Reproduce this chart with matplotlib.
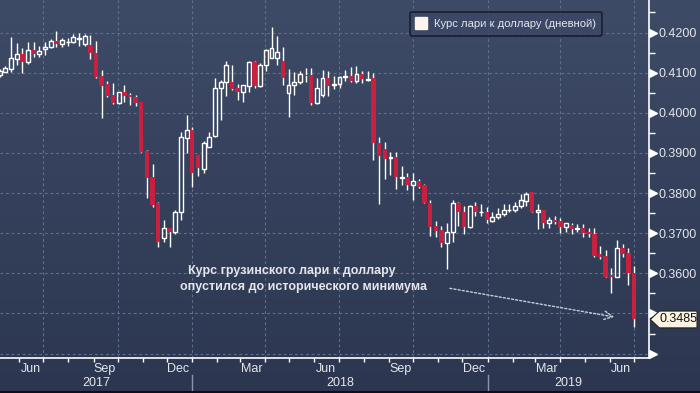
import datetime as dt

import matplotlib
matplotlib.use("Agg")
import matplotlib.pyplot as plt
import matplotlib.dates as mdates
import numpy as np
from matplotlib.colors import LinearSegmentedColormap
from matplotlib.lines import Line2D
from matplotlib.patches import Polygon, Rectangle
from matplotlib.transforms import blended_transform_factory

# weekly GEL/USD candles, first week starts 2017-05-08
first_week = dt.date(2017, 5, 8)
opens = [0.4093, 0.4101, 0.4108, 0.4133, 0.4146, 0.4126, 0.4156, 0.4146, 0.4158, 0.4163,
         0.4178, 0.4171, 0.4176, 0.4176, 0.4185, 0.4171, 0.4168, 0.4148, 0.4091, 0.4071,
         0.4044, 0.4024, 0.4051, 0.4044, 0.4039, 0.4026, 0.3904, 0.3839, 0.3774, 0.3687,
         0.3712, 0.3702, 0.3754, 0.3936, 0.3956, 0.3894, 0.3859, 0.3914, 0.3941, 0.4061,
         0.4076, 0.4076, 0.4061, 0.4051, 0.4066, 0.4126, 0.4066, 0.4118, 0.4136, 0.4136,
         0.4128, 0.4049, 0.4069, 0.4076, 0.4093, 0.4093, 0.4024, 0.4044, 0.4086, 0.4069,
         0.4071, 0.4089, 0.4091, 0.4079, 0.4096, 0.4081, 0.4086, 0.3924, 0.3909, 0.3887,
         0.3889, 0.3837, 0.3839, 0.3819, 0.3829, 0.3819, 0.3774, 0.3717, 0.3707, 0.3675,
         0.3702, 0.3774, 0.3752, 0.3715, 0.3767, 0.3752, 0.3754, 0.3730, 0.3740, 0.3749,
         0.3757, 0.3759, 0.3767, 0.3779, 0.3802, 0.3752, 0.3757, 0.3725, 0.3732, 0.3730,
         0.3715, 0.3720, 0.3710, 0.3712, 0.3702, 0.3697, 0.3647, 0.3642, 0.3597, 0.3590,
         0.3662, 0.3650, 0.3600]
highs = [0.4108, 0.4116, 0.4188, 0.4173, 0.4161, 0.4176, 0.4176, 0.4166, 0.4176, 0.4183,
         0.4203, 0.4186, 0.4186, 0.4196, 0.4198, 0.4196, 0.4193, 0.4178, 0.4106, 0.4079,
         0.4074, 0.4051, 0.4069, 0.4049, 0.4044, 0.4026, 0.3907, 0.3872, 0.3777, 0.3732,
         0.3712, 0.3757, 0.3951, 0.3994, 0.3964, 0.3894, 0.3929, 0.3951, 0.4086, 0.4081,
         0.4128, 0.4118, 0.4071, 0.4069, 0.4128, 0.4128, 0.4123, 0.4158, 0.4213, 0.4191,
         0.4163, 0.4108, 0.4101, 0.4103, 0.4111, 0.4111, 0.4086, 0.4106, 0.4103, 0.4091,
         0.4091, 0.4106, 0.4113, 0.4116, 0.4103, 0.4103, 0.4098, 0.3939, 0.3927, 0.3902,
         0.3902, 0.3867, 0.3849, 0.3849, 0.3834, 0.3822, 0.3782, 0.3730, 0.3717, 0.3725,
         0.3782, 0.3777, 0.3767, 0.3769, 0.3777, 0.3772, 0.3764, 0.3752, 0.3762, 0.3772,
         0.3772, 0.3777, 0.3797, 0.3802, 0.3802, 0.3772, 0.3759, 0.3740, 0.3742, 0.3737,
         0.3725, 0.3725, 0.3722, 0.3722, 0.3712, 0.3712, 0.3667, 0.3657, 0.3612, 0.3682,
         0.3672, 0.3662, 0.3617]
lows = [0.4089, 0.4101, 0.4101, 0.4118, 0.4098, 0.4121, 0.4138, 0.4138, 0.4143, 0.4161,
        0.4163, 0.4163, 0.4166, 0.4173, 0.4166, 0.4166, 0.4133, 0.4087, 0.3986, 0.4039,
        0.4021, 0.4021, 0.4026, 0.4019, 0.4016, 0.3902, 0.3787, 0.3764, 0.3665, 0.3677,
        0.3665, 0.3697, 0.3732, 0.3899, 0.3814, 0.3842, 0.3849, 0.3914, 0.3939, 0.3981,
        0.4041, 0.4056, 0.4031, 0.4026, 0.4051, 0.4061, 0.4064, 0.4103, 0.4136, 0.4118,
        0.4069, 0.3989, 0.4044, 0.4071, 0.4076, 0.4019, 0.4021, 0.4039, 0.4041, 0.4059,
        0.4061, 0.4079, 0.4076, 0.4074, 0.4074, 0.4079, 0.3882, 0.3772, 0.3834, 0.3844,
        0.3809, 0.3819, 0.3807, 0.3782, 0.3812, 0.3774, 0.3692, 0.3690, 0.3665, 0.3610,
        0.3677, 0.3717, 0.3697, 0.3712, 0.3744, 0.3744, 0.3725, 0.3727, 0.3735, 0.3744,
        0.3752, 0.3752, 0.3762, 0.3767, 0.3752, 0.3710, 0.3712, 0.3712, 0.3722, 0.3700,
        0.3702, 0.3697, 0.3702, 0.3690, 0.3690, 0.3640, 0.3635, 0.3590, 0.3550, 0.3590,
        0.3640, 0.3572, 0.3465]
closes = [0.4103, 0.4111, 0.4136, 0.4146, 0.4126, 0.4156, 0.4146, 0.4153, 0.4163, 0.4178,
          0.4171, 0.4181, 0.4177, 0.4188, 0.4186, 0.4191, 0.4148, 0.4089, 0.4066, 0.4041,
          0.4024, 0.4051, 0.4041, 0.4039, 0.4024, 0.3902, 0.3837, 0.3769, 0.3677, 0.3712,
          0.3702, 0.3754, 0.3939, 0.3956, 0.3849, 0.3862, 0.3924, 0.3939, 0.4061, 0.4076,
          0.4118, 0.4059, 0.4051, 0.4069, 0.4126, 0.4066, 0.4118, 0.4156, 0.4161, 0.4151,
          0.4086, 0.4069, 0.4076, 0.4096, 0.4091, 0.4024, 0.4061, 0.4086, 0.4066, 0.4071,
          0.4089, 0.4091, 0.4079, 0.4096, 0.4084, 0.4084, 0.3924, 0.3892, 0.3884, 0.3889,
          0.3839, 0.3839, 0.3819, 0.3829, 0.3814, 0.3774, 0.3715, 0.3705, 0.3675, 0.3702,
          0.3774, 0.3752, 0.3715, 0.3767, 0.3752, 0.3754, 0.3732, 0.3740, 0.3749, 0.3759,
          0.3759, 0.3767, 0.3782, 0.3797, 0.3752, 0.3757, 0.3725, 0.3732, 0.3727, 0.3715,
          0.3725, 0.3710, 0.3712, 0.3700, 0.3697, 0.3642, 0.3640, 0.3592, 0.3590, 0.3662,
          0.3647, 0.3600, 0.3485]

legend_label = "Курс лари к доллару (дневной)"
note_lines = ["Курс грузинского лари к доллару", "опустился до исторического минимума"]
month_labels = {6: "Jun", 9: "Sep", 12: "Dec", 3: "Mar"}
years = [2017, 2018, 2019]

weeks = [first_week + dt.timedelta(weeks=i) for i in range(len(opens))]
xs = mdates.date2num(weeks)

RED = "#c8203f"
GRID = "#5f6f8e"
TEXT = "#e4e6ea"
plt.rcParams["font.family"] = ["Liberation Sans", "DejaVu Sans"]

fig = plt.figure(figsize=(7.0, 3.93), dpi=100)

# background gradient
bg = fig.add_axes([0, 0, 1, 1], zorder=-10)
grad = np.linspace(0, 1, 256).reshape(-1, 1)
cmap = LinearSegmentedColormap.from_list("bg", ["#3e4b67", "#2c3650"])
bg.imshow(grad, aspect="auto", cmap=cmap, extent=[0, 1, 0, 1])
bg.set_axis_off()
fig.add_artist(Rectangle((0, 0), 1, 2 / 393, transform=fig.transFigure,
                         facecolor="#0c0f16", edgecolor="none"))

ax = fig.add_axes([0, 1 - 358 / 393, 649 / 700, 358 / 393])
ax.set_facecolor("none")

x_left = mdates.date2num(dt.datetime(2017, 5, 8, 8))
x_right = x_left + 649 / 0.809
ax.set_xlim(x_left, x_right)
ax.set_ylim(0.3389, 0.4281)

# candles
body_w = 4.8
for x, o, h, l, c in zip(xs, opens, highs, lows, closes):
    top, bot = max(o, c), min(o, c)
    if c >= o:
        ax.vlines(x, top, h, color="white", lw=1, zorder=3)
        ax.vlines(x, l, bot, color="white", lw=1, zorder=3)
        ax.add_patch(Rectangle((x - body_w / 2, bot), body_w, max(top - bot, 0.00005),
                               facecolor="none", edgecolor="white", lw=1, zorder=4))
    else:
        ax.vlines(x, l, h, color="white", lw=1, zorder=3)
        ax.add_patch(Rectangle((x - body_w / 2 - 0.3, bot), body_w + 0.6, max(top - bot, 0.0002),
                               facecolor=RED, edgecolor="none", zorder=4))

# grid
yt = np.round(np.arange(0.34, 0.4201, 0.01), 2)
for y in yt:
    ax.axhline(y, color=GRID, lw=0.8, ls=(0, (2.5, 2.5)), zorder=1)
quarters = [dt.date(2017, 7, 1), dt.date(2017, 10, 1), dt.date(2018, 1, 1), dt.date(2018, 4, 1),
            dt.date(2018, 7, 1), dt.date(2018, 10, 1), dt.date(2019, 1, 1), dt.date(2019, 4, 1),
            dt.date(2019, 7, 1)]
for q in quarters:
    ax.axvline(mdates.date2num(q), color=GRID, lw=0.8, ls=(0, (2.5, 2.5)), zorder=1)

# spines
for s in ["top", "left"]:
    ax.spines[s].set_visible(False)
for s in ["right", "bottom"]:
    ax.spines[s].set_color("white")
    ax.spines[s].set_linewidth(1.2)

# right axis (0.34 and 0.35 labels sit under the price tag / axis corner)
last = closes[-1]
ax.yaxis.tick_right()
ax.set_yticks(yt)
ax.set_yticklabels(["" if y < 0.355 else f"{y:.4f}" for y in yt])
ax.set_yticks(np.round(np.arange(0.345, 0.4251, 0.01), 3), minor=True)
ax.tick_params(axis="y", which="major", length=0, pad=7, labelsize=9, labelcolor=TEXT)
ax.tick_params(axis="y", which="minor", length=4, width=1, color="white", direction="out")
tr = blended_transform_factory(ax.transAxes, ax.transData)
ax.plot([1.006] * len(yt), yt, ls="none", marker=">", ms=5.5, color="white",
        transform=tr, clip_on=False, zorder=5)

# bottom axis: month ticks, labels at mid-month, years below
ax.xaxis.set_major_locator(mdates.MonthLocator())
ax.xaxis.set_major_formatter(plt.NullFormatter())
ax.tick_params(axis="x", which="major", length=3, width=1, color="white", direction="out")
trx = blended_transform_factory(ax.transData, ax.transAxes)
for yr in years:
    for m, name in month_labels.items():
        xm = mdates.date2num(dt.date(yr, m, 15))
        if x_left < xm < x_right:
            ax.text(xm, -0.031, name, transform=trx, ha="center", va="center",
                    fontsize=9, color=TEXT)
    y0 = max(mdates.date2num(dt.date(yr, 1, 1)), x_left)
    y1 = min(mdates.date2num(dt.date(yr + 1, 1, 1)), x_right)
    ax.text((y0 + y1) / 2, -0.071, str(yr), transform=trx, ha="center", va="center",
            fontsize=9, color=TEXT)
for yr in years[1:]:
    xj = mdates.date2num(dt.date(yr, 1, 1))
    ax.plot([xj, xj], [-0.048, -0.095], color="#8b95a8", lw=1, transform=trx, clip_on=False)

# legend
handle = Line2D([], [], marker="s", ls="none", color="#fbf5ee", ms=8.5)
leg = ax.legend([handle], [legend_label], loc="upper right", bbox_to_anchor=(0.937, 0.982),
                fontsize=8.1, frameon=True, fancybox=True, handlelength=0.8,
                handletextpad=0.7, borderpad=0.6, labelcolor=TEXT)
leg.get_frame().set_facecolor("#3b4764")
leg.get_frame().set_edgecolor("#141824")
leg.get_frame().set_linewidth(1.3)

# annotation
ax.text(0.4495, 0.243, note_lines[0], transform=ax.transAxes, ha="center", va="center",
        fontsize=9, fontweight="bold", color=TEXT)
ax.text(0.468, 0.198, note_lines[1], transform=ax.transAxes, ha="center", va="center",
        fontsize=9, fontweight="bold", color=TEXT)
ax.annotate("", xy=(xs[-4], 0.3490), xytext=(0.689, 0.196), textcoords="axes fraction",
            arrowprops=dict(arrowstyle="->,head_length=0.6,head_width=0.3", color="#c9cdd8",
                            lw=1, ls=(0, (1.5, 1.5))))

# last price tag
h = 0.0021
tag = Polygon([(1.002, last), (1.016, last + h), (1.074, last + h), (1.074, last - h),
               (1.016, last - h)], closed=True, transform=tr, clip_on=False,
              facecolor="#fcf4e3", edgecolor="#222222", lw=0.8, zorder=6)
ax.add_patch(tag)
ax.text(1.0155, last, f"{last:.4f}", transform=tr, ha="left", va="center", fontsize=9,
        color="#111111", zorder=7)

fig.savefig("out.png", dpi=100)
